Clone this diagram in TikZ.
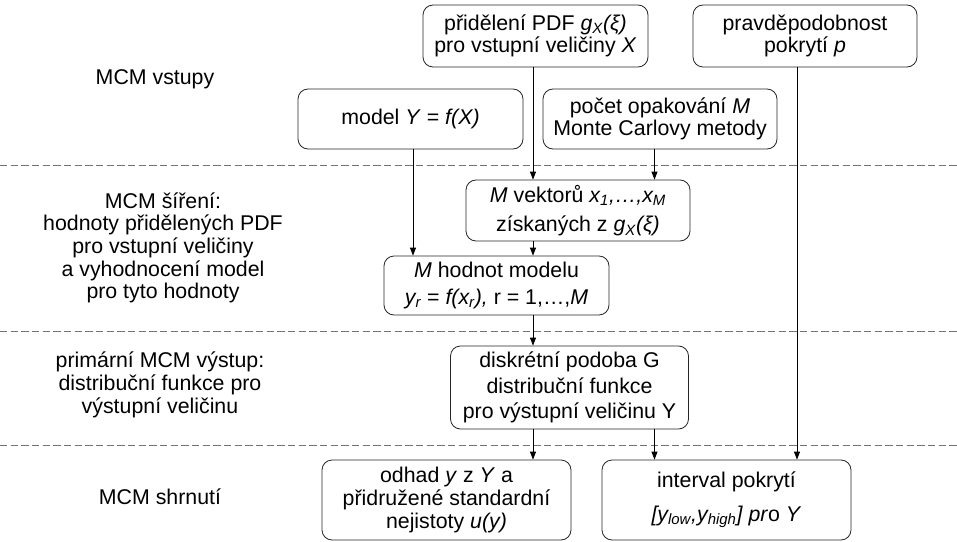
\documentclass[tikz,border=0pt]{standalone}
\usepackage{fontspec}
\setmainfont{Liberation Sans}
\usetikzlibrary{arrows.meta}

\definecolor{cara}{gray}{0.45}

\begin{document}
\begin{tikzpicture}[x=0.75pt, y=-0.75pt,
    font=\fontsize{16}{17}\selectfont,
    krabice/.style={draw=black!85, line width=0.6pt, rounded corners=7.5pt, align=center, inner sep=0pt},
    popis/.style={align=center},
    sipka/.style={line width=0.6pt, -{Triangle[length=6pt,width=4.5pt]}},
    hranice/.style={cara, line width=0.75pt, dash pattern=on 5.5pt off 2.5pt}]
            \useasboundingbox (0,0) rectangle (957,542);

            % hranice mezi fazemi
            \draw[hranice] (0,165) -- (957,165);
            \draw[hranice] (0,331) -- (957,331);
            \draw[hranice] (0,445) -- (957,445);

            % popisy vlevo
            \node[popis] (vstupy) at (155,79) {MCM vstupy};
            \node[popis] (sireni) at (163,248) {MCM šíření:\\hodnoty přidělených PDF\\pro vstupní veličiny\\a vyhodnocení model\\pro tyto hodnoty};
            \node[popis] (vystup) at (160,385) {primární MCM výstup:\\distribuční funkce pro\\výstupní veličinu};
            \node[popis] (shrnuti) at (160,497) {MCM shrnutí};

            % krabice
            \node[krabice, minimum width=225pt*0.75, minimum height=62pt*0.75] (pdf) at (535.5,36) {přidělení PDF \textit{g\textsubscript{X}(ξ)}\\pro vstupní veličiny \textit{X}};
            \node[krabice, minimum width=224pt*0.75, minimum height=62pt*0.75] (pst) at (805,36) {pravděpodobnost\\pokrytí \textit{p}};
            \node[krabice, minimum width=225pt*0.75, minimum height=60pt*0.75] (model) at (410.5,119) {model \textit{Y} = \textit{f(X)}};
            \node[krabice, minimum width=234pt*0.75, minimum height=60pt*0.75] (pocet) at (660,119) {počet opakování \textit{M}\\Monte Carlovy metody};
            \node[krabice, minimum width=224pt*0.75, minimum height=61pt*0.75] (vektory) at (578,210.5) {\textit{M} vektorů \textit{x\textsubscript{1},…,x\textsubscript{M}}\\[5pt]získaných z \textit{g\textsubscript{X}(ξ)}};
            \node[krabice, minimum width=225pt*0.75, minimum height=59pt*0.75] (hodnoty) at (496.5,285.5) {\textit{M} hodnot modelu\\[3pt]\textit{y\textsubscript{r}} = \textit{f(x\textsubscript{r}),} r = 1,…,\textit{M}};
            \node[krabice, minimum width=238pt*0.75, minimum height=83pt*0.75] (podoba) at (569.5,387.5) {diskrétní podoba G\\[2pt]distribuční funkce\\[2pt]pro výstupní veličinu Y};
            \node[krabice, minimum width=249pt*0.75, minimum height=80pt*0.75] (odhad) at (446.5,500) {odhad \textit{y} z \textit{Y} a\\přidružené standardní\\nejistoty \textit{u(y)}};
            \node[krabice, minimum width=249pt*0.75, minimum height=80pt*0.75] (interval) at (726.5,500) {interval pokrytí\\[8pt]\textit{[y\textsubscript{low},y\textsubscript{high}] pr}o \textit{Y}};

            % osy sipek
            \coordinate (osa) at (533,0);
            \coordinate (osa2) at (654.5,0);
            \coordinate (osa3) at (797,0);

            % sipky
            \draw[sipka] (osa |- pdf.south) -- (osa |- vektory.north);
            \draw[sipka] (osa2 |- pocet.south) -- (osa2 |- vektory.north);
            \draw[sipka] (413,0 |- model.south) -- (413,0 |- hodnoty.north);
            \draw[sipka] (osa |- vektory.south) -- (osa |- hodnoty.north);
            \draw[sipka] (osa |- hodnoty.south) -- (osa |- podoba.north);
            \draw[sipka] (osa |- podoba.south) -- (osa |- odhad.north);
            \draw[sipka] (osa2 |- podoba.south) -- (osa2 |- interval.north);
            \draw[sipka] (osa3 |- pst.south) -- (osa3 |- interval.north);
        \end{tikzpicture}
\end{document}
